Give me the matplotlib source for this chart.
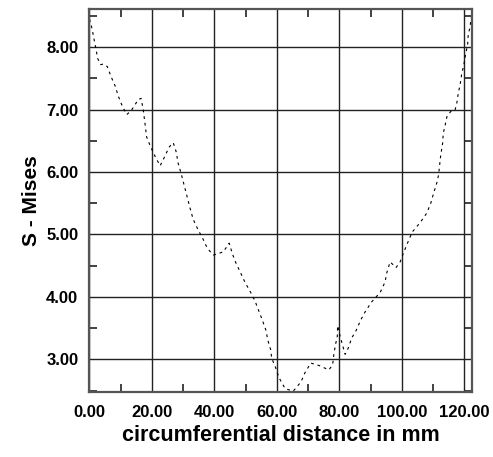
import matplotlib
matplotlib.use("Agg")
import matplotlib.pyplot as plt
from matplotlib.ticker import MultipleLocator, FormatStrFormatter

distance = [0, 0.9, 1.4, 2.1, 2.6, 3.6, 4.4, 5.7, 6.9, 8.2, 9.2, 10.3, 11.9, 13.3,
            15.6, 16.5, 17.2, 18.0, 18.3, 19.6, 21.0, 22.6, 23.8, 25.5, 26.8, 27.9,
            28.2, 29.2, 30.8, 32.4, 33.2, 34.8, 36.2, 37.7, 39.6, 42.8, 44.7, 45.8,
            46.8, 48.4, 49.8, 51.6, 53.0, 54.3, 55.3, 56.5, 57.0, 58.0, 58.3, 59.6,
            60.6, 62.6, 65.2, 67.7, 68.9, 70.8, 73.5, 76.6, 77.8, 78.2, 78.7, 79.3,
            79.4, 80.2, 80.8, 81.8, 82.8, 83.9, 85.3, 86.8, 88.2, 90.3, 93.0, 94.6,
            95.1, 96.2, 98.1, 99.4, 100.6, 102.0, 103.3, 105.8, 107.9, 109.2, 110.0,
            111.1, 111.7, 112.1, 112.4, 113.0, 113.2, 113.8, 114.4, 115.9, 117.0,
            117.5, 118.0, 118.6, 119.1, 119.8, 120.4, 121.0, 121.2, 121.8, 122.1]
mises = [8.45, 8.28, 8.14, 7.97, 7.82, 7.72, 7.73, 7.69, 7.53, 7.38, 7.22, 7.08, 6.92, 6.98,
         7.16, 7.18, 7.00, 6.68, 6.56, 6.40, 6.25, 6.10, 6.22, 6.40, 6.47, 6.30,
         6.17, 6.00, 5.69, 5.38, 5.24, 5.07, 4.94, 4.78, 4.67, 4.72, 4.86, 4.68,
         4.55, 4.38, 4.23, 4.07, 3.93, 3.76, 3.63, 3.46, 3.32, 3.15, 3.02, 2.86,
         2.71, 2.53, 2.49, 2.64, 2.78, 2.94, 2.90, 2.83, 2.91, 3.08, 3.23, 3.37,
         3.54, 3.37, 3.26, 3.08, 3.18, 3.34, 3.46, 3.63, 3.76, 3.92, 4.07, 4.24,
         4.38, 4.56, 4.47, 4.56, 4.72, 4.89, 5.04, 5.19, 5.34, 5.50, 5.64,
         5.82, 5.95, 6.14, 6.27, 6.46, 6.62, 6.75, 6.89, 6.99, 7.00,
         7.09, 7.26, 7.40, 7.57, 7.72, 7.90, 8.04, 8.20, 8.33, 8.47]

plt.rcParams['font.family'] = ['Liberation Sans', 'DejaVu Sans']

fig = plt.figure(figsize=(4.93, 4.57), dpi=100)
ax = fig.add_axes([0.1815, 0.1422, 0.9574 - 0.1815, 0.9814 - 0.1422])

ax.plot(distance, mises, color='black', linewidth=0.8, linestyle=(0, (2.5, 3.5)))

ax.set_xlim(0, 122.4)
ax.set_ylim(2.476, 8.62)

ax.xaxis.set_major_locator(MultipleLocator(20))
ax.xaxis.set_minor_locator(MultipleLocator(10))
ax.yaxis.set_major_locator(MultipleLocator(1))
ax.yaxis.set_minor_locator(MultipleLocator(0.5))
ax.xaxis.set_major_formatter(FormatStrFormatter('%.2f'))
ax.yaxis.set_major_formatter(FormatStrFormatter('%.2f'))

ax.grid(True, which='major', color='#222222', linewidth=1.0)
ax.tick_params(which='major', direction='in', length=0, labelsize=12,
               top=True, right=True)
ax.tick_params(axis='x', which='major', pad=9)
ax.tick_params(axis='y', which='major', pad=8)
ax.tick_params(which='minor', direction='in', length=6, width=1.2, color='#222222',
               top=True, right=True)
for lab in ax.get_xticklabels() + ax.get_yticklabels():
    lab.set_fontweight('bold')

for s in ax.spines.values():
    s.set_color('#555555')
    s.set_linewidth(1.6)

ax.set_xlabel('circumferential distance in mm', fontsize=15.5, fontweight='bold', labelpad=4)
ax.set_ylabel('S - Mises', fontsize=15, fontweight='bold', labelpad=4)

fig.savefig('out.png', dpi=100)
